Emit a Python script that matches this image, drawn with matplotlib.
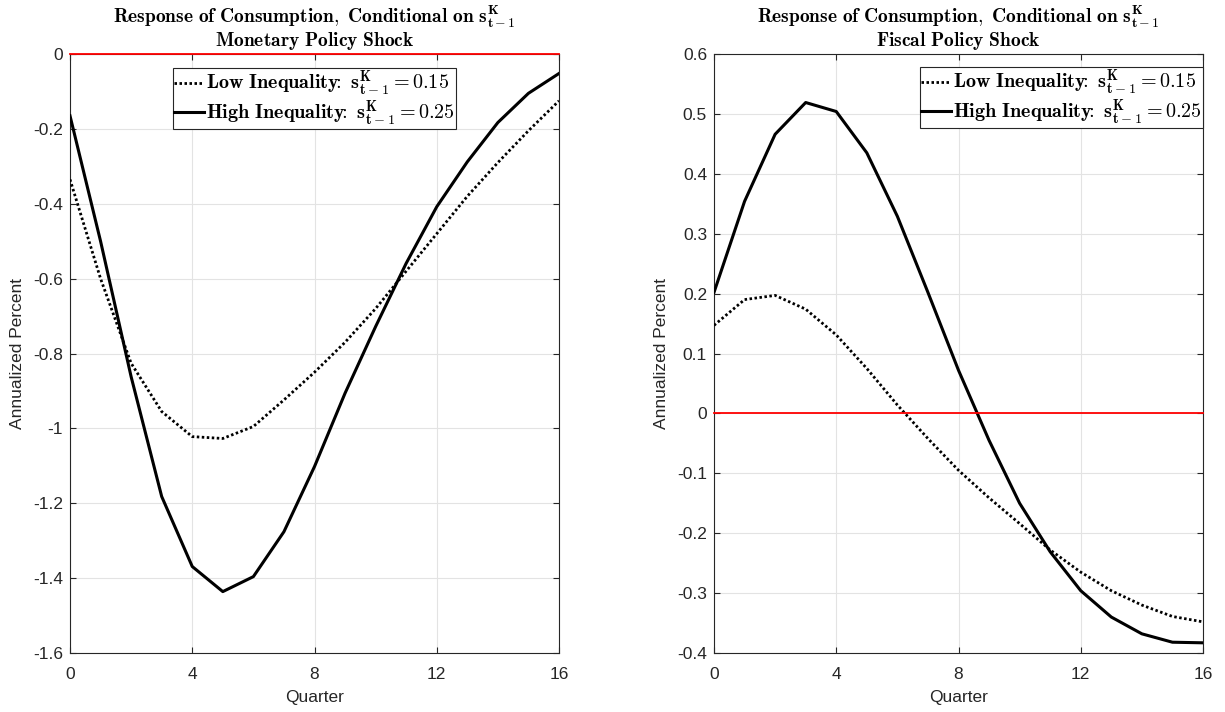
"""
Consumption responses to monetary and fiscal policy shocks,
conditional on the capital share s^K_{t-1} (low vs. high inequality).
"""
import numpy as np
import matplotlib
matplotlib.use("Agg")
import matplotlib.pyplot as plt

plt.rcParams["mathtext.fontset"] = "cm"
plt.rcParams["axes.unicode_minus"] = False
plt.rcParams["font.family"] = ["Liberation Sans", "DejaVu Sans"]

quarters = np.arange(17)

# monetary policy shock
mon_low = [-0.335, -0.60, -0.826, -0.955, -1.022, -1.027, -0.995, -0.924, -0.85,
           -0.77, -0.68, -0.58, -0.48, -0.38, -0.29, -0.205, -0.125]
mon_high = [-0.165, -0.50, -0.862, -1.182, -1.369, -1.436, -1.396, -1.276, -1.102,
            -0.906, -0.728, -0.559, -0.408, -0.288, -0.183, -0.105, -0.052]

# fiscal policy shock
fis_low = [0.147, 0.190, 0.197, 0.174, 0.131, 0.075, 0.014, -0.042, -0.095,
           -0.141, -0.184, -0.228, -0.265, -0.296, -0.320, -0.339, -0.348]
fis_high = [0.202, 0.354, 0.466, 0.519, 0.504, 0.435, 0.329, 0.202, 0.072,
            -0.045, -0.150, -0.231, -0.296, -0.340, -0.368, -0.382, -0.383]

x_ticks = [0, 4, 8, 12, 16]
mon_yticks = np.round(np.arange(-1.6, 0.01, 0.2), 1)
fis_yticks = np.round(np.arange(-0.4, 0.61, 0.1), 1)

title_top = r"$\mathbf{Response\ of\ Consumption,\ Conditional\ on\ s^{K}_{t-1}}$"
labels = [r"$\mathbf{Low\ Inequality\!\!:\ s^{K}_{t-1} = 0.15}$",
          r"$\mathbf{High\ Inequality\!\!:\ s^{K}_{t-1} = 0.25}$"]

dark = "#262626"
W, H = 1225, 712
ax_top, ax_bot = 54, 653


def tick_label(v):
    """MATLAB style tick labels: 0, -0.2, -1, 0.5"""
    s = "%g" % v
    return "0" if s in ("-0", "0") else s


def setup_axes(ax, yticks, ylim, title, legend_loc, legend_anchor):
    ax.axhline(0, color="red", linewidth=1.3, zorder=5, clip_on=False)
    ax.set_xlim(0, 16)
    ax.set_ylim(*ylim)
    ax.set_xticks(x_ticks)
    ax.set_yticks(yticks)
    ax.set_yticklabels([tick_label(v) for v in yticks])
    ax.grid(True, color="#e3e3e3", linewidth=0.8, zorder=0)
    ax.set_axisbelow(True)
    ax.tick_params(direction="in", top=True, right=True, length=4,
                   width=0.8, colors=dark, labelsize=12.5, pad=5)
    ax.tick_params(axis="x", pad=10)
    for sp in ax.spines.values():
        sp.set_color(dark)
        sp.set_linewidth(0.8)
    ax.set_xlabel("Quarter", fontsize=12.5, color=dark, labelpad=6)
    ax.set_ylabel("Annualized Percent", fontsize=12.5, color=dark, labelpad=6)

    # two line title, placed by baseline
    pos = ax.get_position()
    xc = (pos.x0 + pos.x1) / 2
    fig.text(xc, 1 - 23 / H, title_top, ha="center", va="baseline", fontsize=14)
    fig.text(xc, 1 - 46 / H, title, ha="center", va="baseline", fontsize=14)

    leg = ax.legend(labels, loc=legend_loc, bbox_to_anchor=legend_anchor,
                    fontsize=14.5, handlelength=1.5, handletextpad=0.1,
                    borderpad=0.05, labelspacing=0.0, borderaxespad=0,
                    fancybox=False, framealpha=1)
    leg.get_frame().set_edgecolor(dark)
    leg.get_frame().set_linewidth(0.8)
    leg.set_zorder(10)


fig = plt.figure(figsize=(W / 100, H / 100), dpi=100)
ax1 = fig.add_axes([70 / W, 1 - ax_bot / H, 489 / W, (ax_bot - ax_top) / H])
ax2 = fig.add_axes([714 / W, 1 - ax_bot / H, 489 / W, (ax_bot - ax_top) / H])

ax1.plot(quarters, mon_low, color="black", linewidth=2.0, linestyle=(0, (0.9, 0.9)), zorder=3)
ax1.plot(quarters, mon_high, color="black", linewidth=2.2, zorder=3)
setup_axes(ax1, mon_yticks, (-1.6, 0), r"$\mathbf{Monetary\ Policy\ Shock}$",
           "upper center", (0.5, 1 - 14 / 599))

ax2.plot(quarters, fis_low, color="black", linewidth=2.0, linestyle=(0, (0.9, 0.9)), zorder=3)
ax2.plot(quarters, fis_high, color="black", linewidth=2.2, zorder=3)
setup_axes(ax2, fis_yticks, (-0.4, 0.6), r"$\mathbf{Fiscal\ Policy\ Shock}$",
           "upper right", (1.0, 1 - 13 / 599))

fig.savefig("out.png", dpi=100)
